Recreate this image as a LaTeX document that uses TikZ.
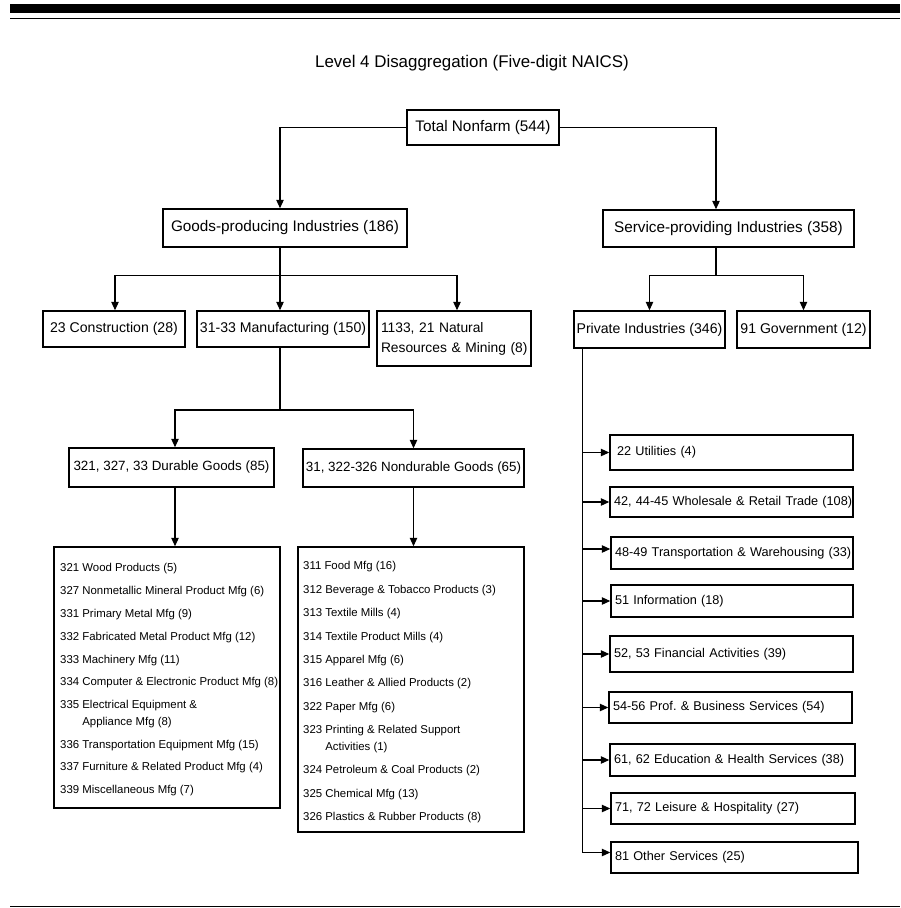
\documentclass[tikz,border=0pt]{standalone}
\usepackage{fontspec}
\setmainfont{Liberation Sans}
\usetikzlibrary{arrows.meta}
\frenchspacing
\begin{document}
\begin{tikzpicture}[x=1pt,y=-1pt,
  box/.style={draw, line width=1.5pt, inner sep=0pt, align=center},
  ln/.style={line width=1.1pt},
  arr/.style={ln, -{Triangle[length=8.5pt,width=7.5pt]}},
  fA/.style={font=\fontsize{15.3}{18}\selectfont},
  fB/.style={font=\fontsize{14.1}{20}\selectfont},
  fC/.style={font=\fontsize{13.4}{16}\selectfont},
  fD/.style={font=\fontsize{12.7}{15}\selectfont},
  fE/.style={font=\fontsize{11.4}{16.5}\selectfont},
  item/.style={fE, anchor=west, inner sep=0pt, align=left},
  rbox/.style={box, fD, align=left, text width=#1},
]
\useasboundingbox (0,0) rectangle (900,908);
% rules
\fill (10,4) rectangle (900,13.3);
\draw[line width=1.5pt] (10,18.7) -- (900,18.7);
\draw[line width=1.2pt] (10,906.5) -- (900,906.5);
\node[font=\fontsize{16.9}{20}\selectfont] (title) at (472,63) {Level 4 Disaggregation (Five-digit NAICS)};

% top levels
\node[box,fA,minimum width=152pt,minimum height=35pt] (total) at (483,127.5) {Total Nonfarm (544)};
\node[box,fA,minimum width=244pt,minimum height=38pt] (goods) at (285,228) {Goods-producing Industries (186)};
\node[box,fA,minimum width=251pt,minimum height=37pt] (service) at (728.5,228.5) {Service-providing Industries (358)};

\node[box,fB,minimum width=142pt,minimum height=36pt] (constr) at (114,329) {23 Construction (28)};
\node[box,fB,minimum width=172pt,minimum height=36pt] (mfg) at (283,329) {31-33 Manufacturing (150)};
\node[box,font=\fontsize{13.8}{20}\selectfont,minimum width=154pt,minimum height=55pt,text width=146pt,align=left] (natural) at (454,338.5) {\mbox{1133, 21 Natural}\\\mbox{Resources \& Mining (8)}};
\node[box,fB,minimum width=151pt,minimum height=37pt] (private) at (649.5,329.5) {Private Industries (346)};
\node[box,fB,minimum width=133pt,minimum height=37pt] (govt) at (803.5,329.5) {91 Government (12)};

\node[box,fC,minimum width=205pt,minimum height=39pt] (durable) at (171.5,467.5) {321, 327, 33 Durable Goods (85)};
\node[box,fC,minimum width=221pt,minimum height=38pt] (nondur) at (413.5,468) {31, 322-326 Nondurable Goods (65)};

% list boxes
\node[box,minimum width=226pt,minimum height=261pt] (durlist) at (167,677.5) {};
\node[box,minimum width=226pt,minimum height=285pt] (nondurlist) at (411,689.5) {};

\node[item] (d1) at (60,569) {321 Wood Products (5)};
\node[item] (d2) at (60,591.8) {327 Nonmetallic Mineral Product Mfg (6)};
\node[item] (d3) at (60,614.6) {331 Primary Metal Mfg (9)};
\node[item] (d4) at (60,637.4) {332 Fabricated Metal Product Mfg (12)};
\node[item] (d5) at (60,660.2) {333 Machinery Mfg (11)};
\node[item] (d6) at (60,683) {334 Computer \& Electronic Product Mfg (8)};
\node[item] (d7) at (60,714.1) {335 Electrical Equipment \&\\\phantom{335\ }Appliance Mfg (8)};
\node[item] (d8) at (60,745.1) {336 Transportation Equipment Mfg (15)};
\node[item] (d9) at (60,767.9) {337 Furniture \& Related Product Mfg (4)};
\node[item] (d10) at (60,790.7) {339 Miscellaneous Mfg (7)};

\node[item] (n1) at (303,567) {311 Food Mfg (16)};
\node[item] (n2) at (303,590.4) {312 Beverage \& Tobacco Products (3)};
\node[item] (n3) at (303,613.8) {313 Textile Mills (4)};
\node[item] (n4) at (303,637.2) {314 Textile Product Mills (4)};
\node[item] (n5) at (303,660.6) {315 Apparel Mfg (6)};
\node[item] (n6) at (303,684) {316 Leather \& Allied Products (2)};
\node[item] (n7) at (303,707.4) {322 Paper Mfg (6)};
\node[item] (n8) at (303,739.1) {323 Printing \& Related Support\\\phantom{323\ }Activities (1)};
\node[item] (n9) at (303,770.7) {324 Petroleum \& Coal Products (2)};
\node[item] (n10) at (303,794.1) {325 Chemical Mfg (13)};
\node[item] (n11) at (303,817.5) {326 Plastics \& Rubber Products (8)};

% right list
\node[rbox=235pt,minimum width=243pt,minimum height=35pt] (util) at (731.5,452.5) {\mbox{\hspace*{3pt}22 Utilities (4)}};
\node[rbox=235pt,minimum width=243pt,minimum height=30pt] (whole) at (731.5,502) {\mbox{42, 44-45 Wholesale \& Retail Trade (108)}};
\node[rbox=234pt,minimum width=242pt,minimum height=32pt] (trans) at (732,553) {\mbox{48-49 Transportation \& Warehousing (33)}};
\node[rbox=234pt,minimum width=242pt,minimum height=32pt] (info) at (732,601) {\mbox{51 Information (18)}};
\node[rbox=235pt,minimum width=243pt,minimum height=36pt] (fin) at (731.5,654) {\mbox{52, 53 Financial Activities (39)}};
\node[rbox=235pt,minimum width=243pt,minimum height=31pt] (prof) at (730.5,707.5) {\mbox{54-56 Prof. \& Business Services (54)}};
\node[rbox=237pt,minimum width=245pt,minimum height=32pt] (educ) at (732.5,760) {\mbox{61, 62 Education \& Health Services (38)}};
\node[rbox=236pt,minimum width=244pt,minimum height=31pt] (leis) at (733,808.5) {\mbox{71, 72 Leisure \& Hospitality (27)}};
\node[rbox=239pt,minimum width=247pt,minimum height=31pt] (other) at (734.5,857.5) {\mbox{81 Other Services (25)}};

% connectors
\draw[arr] (total.west) -| ([xshift=-5pt]goods.north);
\draw[arr] (total.east) -| ([xshift=-12.5pt]service.north);

\coordinate (gj) at (280,275.7);
\draw[ln] ([xshift=-5pt]goods.south) -- (gj);
\draw[arr] (gj) -| ([xshift=1pt]constr.north);
\draw[arr] (gj) -- ([xshift=-3pt]mfg.north);
\draw[arr] (gj) -| ([xshift=3pt]natural.north);

\coordinate (sj) at (716,275.7);
\draw[ln] ([xshift=-12.5pt]service.south) -- (sj);
\draw[arr] (sj) -| (private.north);
\draw[arr] (sj) -| (govt.north);

\coordinate (mj) at (280,410);
\draw[ln] ([xshift=-3pt]mfg.south) -- (mj);
\draw[arr] (mj) -| ([xshift=3.5pt]durable.north);
\draw[arr] (mj) -| (nondur.north);
\draw[arr] ([xshift=3.5pt]durable.south) -- ([xshift=8pt]durlist.north);
\draw[arr] (nondur.south) -- ([xshift=2.5pt]nondurlist.north);

\coordinate (pt) at ([xshift=9pt]private.south west);
\draw[arr] (pt) |- ([yshift=5pt]other.west);
\foreach \n in {util,whole,info,fin,prof,educ,leis}
  \draw[arr] (\n.west -| pt) -- (\n.west);
\draw[arr] ([yshift=4pt]trans.west -| pt) -- ([yshift=4pt]trans.west);
\end{tikzpicture}
\end{document}
